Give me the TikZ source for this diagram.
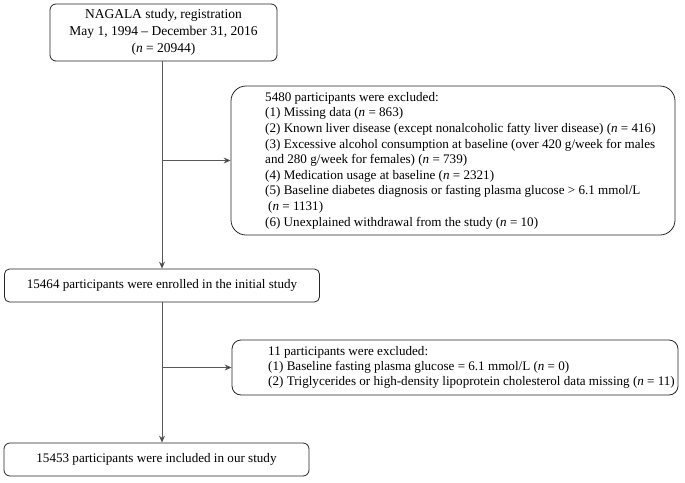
\documentclass[tikz,border=0pt]{standalone}
\usepackage{fontspec}
\setmainfont{Liberation Serif}
\usetikzlibrary{arrows.meta}
\begin{document}
\begin{tikzpicture}[x=1pt,y=-1pt,
  box/.style={draw=black!85,line width=0.8pt,inner sep=0pt},
  arr/.style={draw=black!65,line width=0.8pt,-{Stealth[length=7pt,width=6pt,fill=black!85]}},
  txt/.style={inner sep=0pt,align=left,anchor=west,font=\fontsize{13.1}{15.6}\selectfont}]
\useasboundingbox (0,0) rectangle (685,482);
\node[box,rounded corners=6pt,minimum width=227pt,minimum height=57pt,align=center,
  font=\fontsize{13.5}{17.2}\selectfont] (b1) at (163.5,32.5)
  {NAGALA study, registration\\May 1, 1994 -- December 31, 2016\\(\textit{n} = 20944)};
\node[box,rounded corners=15pt,minimum width=444pt,minimum height=149pt] (b2) at (453,160.5) {};
\node[txt] (b2t) at (265,160.5) {5480 participants were excluded:\\
(1) Missing data (\textit{n} = 863)\\
(2) Known liver disease (except nonalcoholic fatty liver disease) (\textit{n} = 416)\\
(3) Excessive alcohol consumption at baseline (over 420 g/week for males\\
and 280 g/week for females) (\textit{n} = 739)\\
(4) Medication usage at baseline (\textit{n} = 2321)\\
(5) Baseline diabetes diagnosis or fasting plasma glucose > 6.1 mmol/L\\
\hspace*{3pt}(\textit{n} = 1131)\\
(6) Unexplained withdrawal from the study (\textit{n} = 10)};
\node[box,rounded corners=5pt,minimum width=315pt,minimum height=33pt,
  font=\fontsize{13.1}{15}\selectfont] (b3) at (162,285.5)
  {15464 participants were enrolled in the initial study};
\node[box,rounded corners=9pt,minimum width=446pt,minimum height=55pt] (b4) at (455,367.5) {};
\node[txt,font=\fontsize{13.1}{14.7}\selectfont] (b4t) at (268,367.5) {11 participants were excluded:\\
(1) Baseline fasting plasma glucose = 6.1 mmol/L (\textit{n} = 0)\\
(2) Triglycerides or high-density lipoprotein cholesterol data missing (\textit{n} = 11)};
\node[box,rounded corners=6pt,minimum width=305pt,minimum height=33pt,
  font=\fontsize{13.1}{15}\selectfont] (b5) at (156.5,459.5)
  {15453 participants were included in our study};
\draw[arr] (b3.north |- b1.south) -- (b3.north);
\draw[arr] (b3.north |- b2.west) -- (b2.west);
\draw[arr] (b3.south) -- (b3.south |- b5.north);
\draw[arr] (b3.south |- b4.west) -- (b4.west);
\end{tikzpicture}
\end{document}
